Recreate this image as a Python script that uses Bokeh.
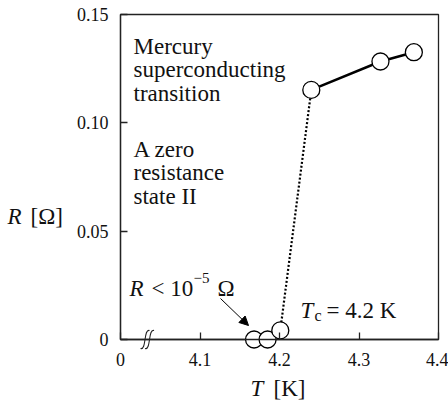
from bokeh.plotting import figure
from bokeh.models import Label, Arrow, NormalHead, FixedTicker, Range1d
from bokeh.embed import file_html
from bokeh.resources import INLINE

# ---- data ----
T_normal = [4.240, 4.327, 4.369]          # K, normal state
R_normal = [0.1152, 0.1283, 0.1326]       # ohm
T_super = [4.168, 4.185, 4.201]           # K, superconducting side
R_super = [0.0, 0.0, 0.0042]              # ohm
x_ticks = [4.0, 4.1, 4.2, 4.3, 4.4]
x_tick_labels = ["0", "4.1", "4.2", "4.3", "4.4"]
y_ticks = [0.0, 0.05, 0.10, 0.15]
y_tick_labels = ["0", "0.05", "0.10", "0.15"]
x_break = 4.034                           # position of the axis-break mark

FONT = "Liberation Serif"
W, H = 448, 401
# pixel box of the axes area inside the canvas
PL, PR, PT, PB = 120, 438, 14, 339
X0, X1, Y0, Y1 = x_ticks[0], x_ticks[-1], y_ticks[0], y_ticks[-1]
SX = (X1 - X0) / (PR - PL)      # data units per pixel
SY = (Y1 - Y0) / (PB - PT)

def dx(px):
    return X0 + (px - PL) * SX

def dy(py):
    return Y0 + (PB - py) * SY

p = figure(width=W, height=H, x_range=Range1d(dx(0), dx(W)), y_range=Range1d(dy(H), dy(0)),
           output_backend="svg", toolbar_location=None,
           min_border_left=0, min_border_right=0, min_border_top=0, min_border_bottom=0)
p.background_fill_color = "white"
p.border_fill_color = "white"
p.outline_line_color = None
p.xgrid.visible = False
p.ygrid.visible = False

# axes box (top / right edges)
p.quad(left=[X0], right=[X1], bottom=[Y0], top=[Y1], fill_color=None,
       line_color="#222222", line_width=1.3)

for ax in (p.xaxis[0], p.yaxis[0]):
    ax.axis_line_color = "#222222"
    ax.axis_line_width = 1.3
    ax.major_tick_line_color = "#222222"
    ax.major_tick_line_width = 1.3
    ax.major_tick_in = 7
    ax.major_tick_out = 0
    ax.minor_tick_line_color = None
    ax.major_label_text_font = FONT
    ax.major_label_text_font_size = "18px"
    ax.major_label_text_color = "#111111"

p.xaxis.fixed_location = Y0
p.xaxis.bounds = (X0, X1)
p.xaxis.ticker = FixedTicker(ticks=x_ticks)
p.xaxis.major_label_overrides = {t: l for t, l in zip(x_ticks, x_tick_labels)}
p.xaxis.major_label_standoff = 13
p.yaxis.fixed_location = X0
p.yaxis.bounds = (Y0, Y1)
p.yaxis.ticker = FixedTicker(ticks=y_ticks)
p.yaxis.major_label_overrides = {t: l for t, l in zip(y_ticks, y_tick_labels)}
p.yaxis.major_label_standoff = 12

# axis break: two small slanted S-strokes
for off in (-2.0, 2.5):
    bx = x_break + off * SX
    p.bezier(x0=[bx - 5 * SX], y0=[Y0 - 9 * SY], x1=[bx + 4 * SX], y1=[Y0 + 9 * SY],
             cx0=[bx + 1 * SX], cy0=[Y0 - 11 * SY], cx1=[bx - 2 * SX], cy1=[Y0 + 11 * SY],
             line_color="#222222", line_width=1.1)

# lines
p.line([T_super[-1], T_normal[0]], [R_super[-1], R_normal[0]],
       line_color="black", line_width=2.2, line_dash="2 2")
p.line(T_normal, R_normal, line_color="black", line_width=2.5)

# markers
p.scatter(T_normal + T_super, R_normal + R_super, size=17, marker="circle",
          fill_color="white", line_color="black", line_width=1.3)

def lab(text, px, py, size=23, style="normal", align="left", baseline="alphabetic"):
    p.add_layout(Label(x=dx(px), y=dy(py), text=text, text_font=FONT,
                       text_font_size=f"{size}px", text_font_style=style,
                       text_color="#111111", text_align=align, text_baseline=baseline))

# axis titles
lab("R", 7, 216, style="italic")
lab("[\u03a9]", 30, 216)
lab("T", 250, 388, style="italic")
lab("[K]", 273, 388)

# annotations
lab("Mercury", 133, 45.5)
lab("superconducting", 133, 69)
lab("transition", 133, 92.5)
lab("A zero", 133, 148.5)
lab("resistance", 133, 172)
lab("state II", 133, 195.5)

lab("R", 129, 287.5, style="italic")
lab("< 10", 151, 287.5)
lab("\u22125", 193, 277.5, size=15)
lab("\u03a9", 217, 287.5)

lab("T", 300, 310, style="italic")
lab("c", 314, 315, size=16)
lab("= 4.2 K", 326, 310)

p.add_layout(Arrow(end=NormalHead(size=9, fill_color="black", line_color="black"),
                   x_start=dx(220), y_start=dy(298), x_end=dx(248), y_end=dy(325),
                   line_color="black", line_width=1))

open("out.html", "w").write(file_html(p, INLINE))
